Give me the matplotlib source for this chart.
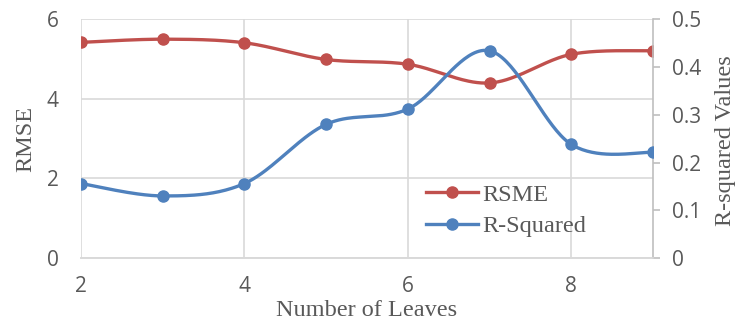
import numpy as np
import matplotlib
matplotlib.use("Agg")
import matplotlib.pyplot as plt
from matplotlib.lines import Line2D

leaves = [2, 3, 4, 5, 6, 7, 8, 9]
rmse = [5.42, 5.50, 5.41, 4.99, 4.87, 4.40, 5.12, 5.21]
r_squared = [0.156, 0.130, 0.156, 0.280, 0.312, 0.434, 0.238, 0.221]

red = "#C0504D"
blue = "#4F81BD"
grey_txt = "#595959"
grid_c = "#D9D9D9"
serif = "Liberation Serif"
sans = "Open Sans"


def smooth(x, y, n=40):
    # catmull-rom style curve through the points, like a smoothed office line
    x = np.asarray(x, float)
    y = np.asarray(y, float)
    px = np.concatenate([[x[0]], x, [x[-1]]])
    py = np.concatenate([[y[0]], y, [y[-1]]])
    xs, ys = [], []
    for i in range(1, len(px) - 2):
        p0, p1, p2, p3 = [np.array([px[j], py[j]]) for j in range(i - 1, i + 3)]
        c1 = p1 + (p2 - p0) / 6
        c2 = p2 - (p3 - p1) / 6
        t = np.linspace(0, 1, n)[:, None]
        pts = (1 - t) ** 3 * p1 + 3 * (1 - t) ** 2 * t * c1 + 3 * (1 - t) * t ** 2 * c2 + t ** 3 * p2
        xs.append(pts[:, 0])
        ys.append(pts[:, 1])
    return np.concatenate(xs), np.concatenate(ys)


fig = plt.figure(figsize=(7.41, 3.23), dpi=100)
ax = fig.add_axes([81 / 741, 65 / 323, 572 / 741, 238.7 / 323])
ax2 = ax.twinx()

ax.set_xlim(2, 9)
ax.set_ylim(0, 6)
ax2.set_ylim(0, 0.5)

ax.set_xticks([2, 4, 6, 8])
ax.set_yticks([0, 2, 4, 6])
ax2.set_yticks(np.arange(0, 0.51, 0.1))
ax2.set_yticklabels(["0", "0.1", "0.2", "0.3", "0.4", "0.5"])

ax.grid(True, color=grid_c, linewidth=1.2)
ax.set_axisbelow(True)
for a in (ax, ax2):
    a.spines["top"].set_visible(False)
    a.spines["left"].set_visible(False)
    a.spines["bottom"].set_color(grid_c)
    a.spines["bottom"].set_linewidth(1.2)
ax.spines["right"].set_visible(False)
ax2.spines["right"].set_color("#BFBFBF")
ax2.spines["right"].set_linewidth(1.2)

ax.tick_params(axis="x", length=0, labelsize=15, labelcolor=grey_txt, pad=13)
ax.tick_params(axis="y", length=0, labelsize=15, labelcolor=grey_txt, pad=16)
ax2.tick_params(axis="y", length=5, width=1.2, color="#BFBFBF", labelsize=15,
                labelcolor=grey_txt, pad=9)
for lbl in ax.get_xticklabels() + ax.get_yticklabels() + ax2.get_yticklabels():
    lbl.set_family(sans)

sx, sy = smooth(leaves, rmse)
ax.plot(sx, sy, color=red, lw=2.4, zorder=3)
ax.plot(leaves, rmse, "o", color=red, ms=8, zorder=4)

sx, sy = smooth(leaves, r_squared)
ax2.plot(sx, sy, color=blue, lw=2.4, zorder=3)
ax2.plot(leaves, r_squared, "o", color=blue, ms=8, zorder=4)

ax.set_ylabel("RMSE", family=serif, fontsize=17.5, color=grey_txt)
ax2.set_ylabel("R-squared Values", family=serif, fontsize=17.5, color=grey_txt)
ax.set_xlabel("Number of Leaves", family=serif, fontsize=17.5, color=grey_txt)
ax.yaxis.set_label_coords(-0.078, 0.5)
ax2.yaxis.set_label_coords(1.109, 0.49)
ax.xaxis.set_label_coords(0.5, -0.176)

handles = [Line2D([], [], color=red, lw=2.4, marker="o", ms=8),
           Line2D([], [], color=blue, lw=2.4, marker="o", ms=8)]
leg = ax2.legend(handles, ["RSME", "R-Squared"], loc="center left",
                 bbox_to_anchor=(416 / 741, (323 - 210.5) / 323), bbox_transform=fig.transFigure,
                 borderaxespad=0, frameon=False, prop={"family": serif, "size": 17.5},
                 handlelength=2.14, handletextpad=0.2, labelspacing=0.38)
for t in leg.get_texts():
    t.set_color(grey_txt)

fig.savefig("out.png", dpi=100)
